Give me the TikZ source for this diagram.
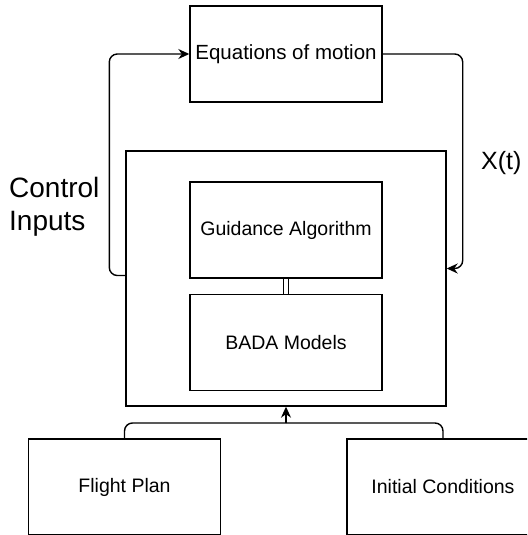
\documentclass[tikz,border=0pt]{standalone}
\usepackage{fontspec}
\setmainfont{Liberation Sans}
\usetikzlibrary{arrows.meta}

\begin{document}
\begin{tikzpicture}[
    x=1pt, y=-1pt,
    box/.style={%
      draw,
      rectangle,
      line width=1.4pt,
      minimum width=192pt,
      minimum height=96pt,
      font=\fontsize{19.5}{23}\selectfont,
    },
    link/.style={%
      line width=1.4pt,
      rounded corners=8pt,
    },
    arr/.style={%
      link,
      -{Stealth[length=11pt,width=10pt]},
    },
  ]

    \useasboundingbox (0,0) rectangle (527,535);
    \clip (0,0) rectangle (527,535);

    \node [box, font=\fontsize{20.5}{24}\selectfont] (EQ) at (286,54) {Equations of motion};
    \node [box, minimum width=320pt, minimum height=255pt] (OUT) at (286,278.5) {};
    \node [box] (GA) at (286,230) {Guidance Algorithm};
    \path (GA) ++(0,112.5) node [box] (BM) {BADA Models};
    \node [box] (FP) at (124.5,487) {Flight Plan};
    \path (FP) ++(318.5,0) node [box] (IC) {Initial Conditions};

    \node [anchor=west, align=left, inner sep=0pt, font=\fontsize{28}{33}\selectfont] (CI) at (9,207) {Control\\Inputs};
    \node [anchor=west, inner sep=0pt, font=\fontsize{25}{30}\selectfont] (XT) at (481,163) {X(t)};

    % double link between the two inner boxes
    \draw [line width=1.2pt] ([xshift=-2.2pt]GA.south) -- ([xshift=-2.2pt]BM.north);
    \draw [line width=1.2pt] ([xshift=2.2pt]GA.south) -- ([xshift=2.2pt]BM.north);

    \draw [arr] ([yshift=3pt]OUT.west) -- ++(-16,0) |- (EQ.west);
    \draw [arr] (EQ.east) -- ++(80,0) |- ([yshift=10pt]OUT.east);

    \coordinate (M) at (OUT.south |- 0,423);
    \draw [link] (FP.north) |- (M);
    \draw [link] (IC.north) |- (M);
    \draw [arr] (M) -- (OUT.south);
\end{tikzpicture}
\end{document}
